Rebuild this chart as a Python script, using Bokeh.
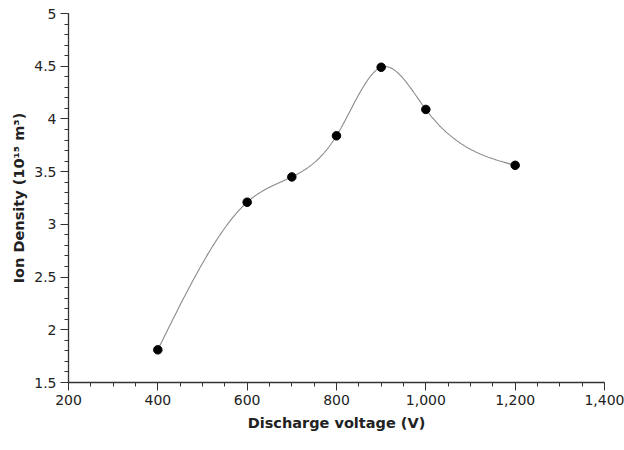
import numpy as np
from bokeh.plotting import figure
from bokeh.models import Range1d, NumeralTickFormatter, FixedTicker
from bokeh.embed import file_html
from bokeh.resources import INLINE

# Data
voltage = [400, 600, 700, 800, 900, 1000, 1200]
ion_density = [1.81, 3.21, 3.45, 3.84, 4.49, 4.09, 3.56]

x_major = [200, 400, 600, 800, 1000, 1200, 1400]
y_major = [1.5, 2, 2.5, 3, 3.5, 4, 4.5, 5]

x_title = "Discharge voltage (V)"
y_title = "Ion Density (10\u00b9\u2075 m\u00b3)"


def natural_cubic_spline(xs, ys, n=400):
    xs = np.asarray(xs, float)
    ys = np.asarray(ys, float)
    k = len(xs)
    h = np.diff(xs)
    A = np.zeros((k, k))
    b = np.zeros(k)
    A[0, 0] = 1
    A[-1, -1] = 1
    for i in range(1, k - 1):
        A[i, i - 1] = h[i - 1]
        A[i, i] = 2 * (h[i - 1] + h[i])
        A[i, i + 1] = h[i]
        b[i] = 3 * ((ys[i + 1] - ys[i]) / h[i] - (ys[i] - ys[i - 1]) / h[i - 1])
    c = np.linalg.solve(A, b)
    xx = np.linspace(xs[0], xs[-1], n)
    yy = np.empty_like(xx)
    for j, x in enumerate(xx):
        i = min(np.searchsorted(xs, x, side="right") - 1, k - 2)
        dx = x - xs[i]
        bi = (ys[i + 1] - ys[i]) / h[i] - h[i] * (2 * c[i] + c[i + 1]) / 3
        di = (c[i + 1] - c[i]) / (3 * h[i])
        yy[j] = ys[i] + bi * dx + c[i] * dx ** 2 + di * dx ** 3
    return xx, yy


sx, sy = natural_cubic_spline(voltage, ion_density)

p = figure(width=624, height=450, output_backend="svg", toolbar_location=None,
           x_range=Range1d(200, 1400), y_range=Range1d(1.5, 5),
           min_border_left=68, min_border_right=20, min_border_top=13,
           min_border_bottom=68)
p.outline_line_color = None
p.background_fill_color = "white"
p.border_fill_color = "white"
p.xgrid.visible = False
p.ygrid.visible = False

p.line(sx, sy, line_color="#8a8a8a", line_width=1.1)
p.scatter(voltage, ion_density, size=8.5, fill_color="black", line_color="black")

p.xaxis.ticker = FixedTicker(ticks=x_major,
                             minor_ticks=list(range(200, 1401, 50)))
p.yaxis.ticker = FixedTicker(ticks=y_major,
                             minor_ticks=[round(1.5 + 0.1 * i, 2) for i in range(36)])
p.xaxis.formatter = NumeralTickFormatter(format="0,0")
p.yaxis.formatter = NumeralTickFormatter(format="0.[0]")

for ax in (p.xaxis, p.yaxis):
    ax.axis_line_color = "#333333"
    ax.axis_line_width = 1.3
    ax.major_tick_line_color = "#333333"
    ax.minor_tick_line_color = "#333333"
    ax.major_tick_in = 0
    ax.minor_tick_in = 0
    ax.major_tick_out = 8
    ax.minor_tick_out = 4
    ax.major_label_text_font = "DejaVu Sans"
    ax.major_label_text_font_size = "14px"
    ax.major_label_text_color = "#222222"
    ax.axis_label_text_font = "DejaVu Sans"
    ax.axis_label_text_font_size = "14.5px"
    ax.axis_label_text_font_style = "bold"
    ax.axis_label_text_color = "#222222"

p.xaxis.axis_label = x_title
p.yaxis.axis_label = y_title
p.xaxis.major_label_standoff = 4
p.yaxis.major_label_standoff = 4
p.xaxis.axis_label_standoff = 7
p.yaxis.axis_label_standoff = 4

open("out.html", "w").write(file_html(p, INLINE))
